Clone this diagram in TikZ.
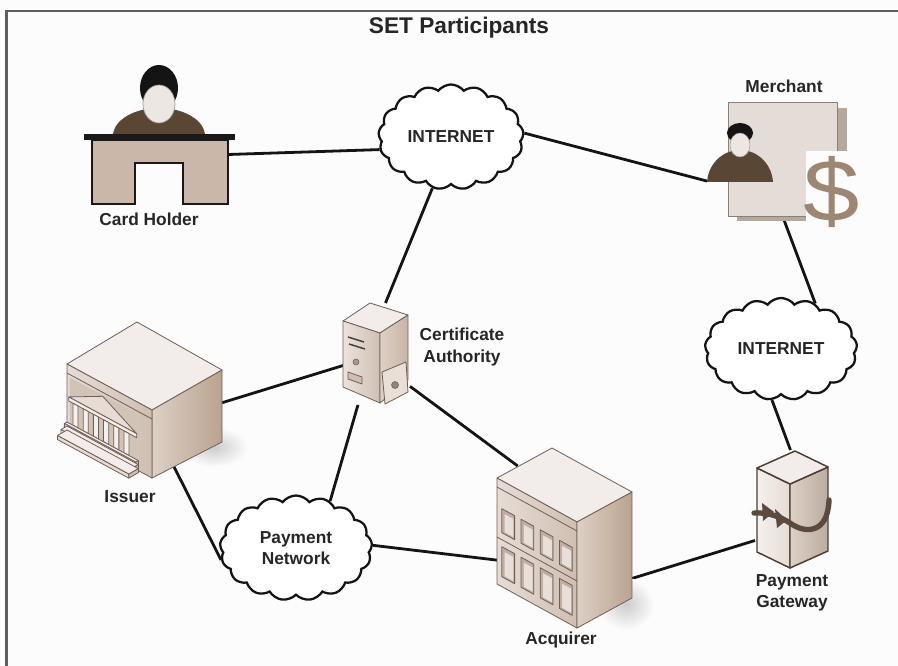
\documentclass[tikz,border=0pt]{standalone}
\usepackage{fontspec}
\setmainfont{Liberation Sans}
\usetikzlibrary{shapes.symbols}

\definecolor{bgc}{HTML}{FCFCFC}
\definecolor{framec}{HTML}{5E5E5E}
\definecolor{txt}{HTML}{262626}
\definecolor{topf}{HTML}{F2EDEA}
\definecolor{facel}{HTML}{E6DCD5}
\definecolor{faceld}{HTML}{CFBFB2}
\definecolor{facer}{HTML}{DDD0C5}
\definecolor{facerd}{HTML}{B9A390}
\definecolor{edgec}{HTML}{6F5F53}
\definecolor{recess}{HTML}{D2C3B7}
\definecolor{colc}{HTML}{F4F0ED}
\definecolor{winf}{HTML}{BFAEA1}
\definecolor{wini}{HTML}{E8DFD8}
\definecolor{skin}{HTML}{EDE7E3}
\definecolor{shirt}{HTML}{5A4634}
\definecolor{desk}{HTML}{CAB7A9}
\definecolor{paper}{HTML}{E4DCD7}
\definecolor{papershadow}{HTML}{B8A89B}
\definecolor{dollarc}{HTML}{9D8772}
\definecolor{bandc}{HTML}{5B4A3D}
\definecolor{pgedge}{HTML}{4C3D33}

\pgfdeclarelayer{back}
\pgfdeclarelayer{links}
\pgfsetlayers{back,links,main}

% points on the temple face of the bank (u along the face, v down, p out of the face)
\newcommand\isl[3]{({67+85*(#1)-0.87*(#3)},{364+46*(#1)+(#2)+0.5*(#3)})}
% points on the window face of the office block
\newcommand\acl[2]{({497+80*(#1)},{478+44*(#1)+(#2)})}

\begin{document}
\begin{tikzpicture}[x=0.75pt,y=-0.75pt,
  link/.style={draw=black!92, line width=2.1pt},
  anchorbox/.style={rectangle, draw=none, inner sep=0pt, outer sep=0pt},
  lbl/.style={font=\bfseries\fontsize{13}{16}\selectfont, text=txt, inner sep=0pt, align=center},
  titlelbl/.style={font=\bfseries\fontsize{17}{20}\selectfont, text=txt, inner sep=0pt},
  cloudn/.style={cloud, cloud puffs=17, cloud puff arc=105, cloud ignores aspect,
    draw=black!92, line width=1.7pt, fill=white, inner sep=0pt,
    font=\bfseries\fontsize{13}{16}\selectfont, text=txt, align=center},
  edge/.style={draw=edgec, line width=0.6pt, line join=round},
  pgline/.style={draw=pgedge, line width=1.1pt, line join=round}]

\useasboundingbox (0,0) rectangle (898,666);
\begin{pgfonlayer}{back}
  \fill[bgc] (0,0) rectangle (898,666);
  \draw[framec, line width=1.6pt] (6.5,666) -- (6.5,11) -- (898,11);
\end{pgfonlayer}

\node[titlelbl] (title) at (459,28) {SET Participants};

% ---------- anchor areas of the participants ----------
\node[anchorbox, minimum width=102pt, minimum height=105pt] (holder) at (160,135) {};
\node[anchorbox, minimum width=113.25pt, minimum height=87pt] (merchant) at (782.5,158) {};
\node[anchorbox, minimum width=50.25pt, minimum height=76.5pt] (ca) at (376.5,354) {};
\node[anchorbox, minimum width=125.25pt, minimum height=106.5pt] (issuer) at (138.5,391) {};
\node[anchorbox, minimum width=101.25pt, minimum height=121.5pt] (acquirer) at (564.5,547) {};
\node[anchorbox, minimum width=56.25pt, minimum height=88.5pt] (gateway) at (792.5,509) {};

% ---------- networks ----------
\node[cloudn, minimum width=108.75pt, minimum height=78.75pt] (cloud1) at (451,137) {INTERNET};
\node[cloudn, minimum width=114pt, minimum height=76.5pt] (cloud2) at (781,349) {INTERNET};
\node[cloudn, minimum width=114pt, minimum height=78.75pt] (pn) at (296,548) {Payment\\Network};

% ---------- connections ----------
\begin{pgfonlayer}{links}
  \draw[link] (holder.-16) -- (cloud1.190);
  \draw[link] (cloud1.3) -- (merchant.197);
  \draw[link] (cloud1.250) -- (ca.80);
  \draw[link] (merchant.south) -- (cloud2.53);
  \draw[link] (cloud2.260) -- (gateway.92);
  \draw[link] (ca.199) -- (issuer.-8);
  \draw[link] (ca.250) -- (pn.54);
  \draw[link] (ca.-44) -- (acquirer.120);
  \draw[link] (issuer.-65) -- (pn.189);
  \draw[link] (pn.2) -- (acquirer.191);
  \draw[link] (acquirer.-25) -- (gateway.220);
\end{pgfonlayer}

% ---------- card holder at a desk ----------
\begin{scope}
  \clip (100,90) rectangle (220,136);
  \fill[shirt] (159,136) ellipse[x radius=46, y radius=28];
\end{scope}
\fill[black!92] (159,88) ellipse[x radius=19, y radius=23];
\filldraw[fill=skin, draw=black!40, line width=0.5pt] (159,104) ellipse[x radius=16, y radius=19];
\fill[black!90] (84,134) rectangle (235,140);
\filldraw[fill=desk, draw=black!90, line width=2pt, line join=miter]
  (92,140) -- (228,140) -- (228,204) -- (183,204) -- (183,163) -- (135,163) -- (135,204) -- (92,204) -- cycle;
\node[lbl] (holderlbl) at (149,219) {Card Holder};

% ---------- merchant ----------
\fill[papershadow] (737,108) rectangle (847,221);
\filldraw[fill=paper, draw=edgec!80, line width=0.6pt] (728,102) rectangle (837,216);
\fill[bgc] (806,151) rectangle (862,234);
\node[inner sep=0pt, text=dollarc, font=\fontsize{66}{66}\selectfont] (dollar) at (832,192) {\scalebox{1.15}[1]{\$}};
\begin{scope}
  \clip (700,140) rectangle (780,182);
  \fill[shirt] (740,184) ellipse[x radius=33, y radius=34];
\end{scope}
\fill[black!92] (740,133) ellipse[x radius=13, y radius=10];
\filldraw[fill=skin, draw=black!40, line width=0.4pt] (740,145) ellipse[x radius=10, y radius=12];
\node[lbl] (merchlbl) at (784,86) {Merchant};

% ---------- certificate authority (server) ----------
\filldraw[fill=topf, edge] (343,321) -- (370,303) -- (408,315) -- (380,333) -- cycle;
\shadedraw[edge, left color=facel!80!white, right color=faceld] (343,321) -- (380,333) -- (380,403) -- (343,387) -- cycle;
\shadedraw[edge, left color=facer, right color=facerd!80!white] (380,333) -- (408,315) -- (408,380) -- (380,403) -- cycle;
\draw[black!75, line width=1.1pt] (348,337) -- (364,342) (349,344) -- (365,349);
\filldraw[fill=faceld!80!black, draw=edgec, line width=0.4pt] (356,362) circle[radius=3];
\filldraw[fill=faceld, edge] (348,372) -- (362,377) -- (362,384) -- (348,379) -- cycle;
\filldraw[fill=wini, edge] (382,372) -- (406,362) -- (408,392) -- (385,404) -- cycle;
\filldraw[fill=faceld!70!black, draw=edgec, line width=0.4pt] (395,385) circle[radius=3.5];
\node[lbl] (calbl) at (462,347) {Certificate\\Authority};

% ---------- issuer (bank) ----------
\shade[inner color=black!20, outer color=bgc] (214,447) ellipse[x radius=34, y radius=20];
\filldraw[fill=topf, edge] (137,322) -- (222,370) -- (152,410) -- (67,364) -- cycle;
\shadedraw[edge, left color=facer, right color=facerd] (152,410) -- (222,370) -- (222,442) -- (152,478) -- cycle;
\shadedraw[edge, left color=facel, right color=faceld] (67,364) -- (152,410) -- (152,478) -- (67,432) -- cycle;
\draw[edge] \isl{0}{9}{0} -- \isl{1}{9}{0};
\fill[recess] \isl{0.03}{12}{0} -- \isl{0.82}{12}{0} -- \isl{0.82}{58}{0} -- \isl{0.03}{58}{0} -- cycle;
\filldraw[fill=facel, edge] \isl{0.02}{32}{0} -- \isl{0.42}{13}{0} -- \isl{0.82}{32}{0} -- cycle;
\filldraw[fill=topf, edge] \isl{0.02}{32}{0} -- \isl{0.82}{32}{0} -- \isl{0.82}{36}{0} -- \isl{0.02}{36}{0} -- cycle;
\foreach \u in {0.10,0.22,0.34,0.46,0.58,0.70}
  \filldraw[fill=colc, edge] \isl{\u-0.03}{36}{0} -- \isl{\u+0.03}{36}{0} -- \isl{\u+0.03}{58}{0} -- \isl{\u-0.03}{58}{0} -- cycle;
\foreach \vt/\p in {58/3,62/7,66/11}{
  \filldraw[fill=topf, edge] \isl{0}{\vt}{0} -- \isl{0.84}{\vt}{0} -- \isl{0.84}{\vt}{\p} -- \isl{0}{\vt}{\p} -- cycle;
  \filldraw[fill=facel, edge] \isl{0}{\vt}{\p} -- \isl{0.84}{\vt}{\p} -- \isl{0.84}{\vt+4}{\p} -- \isl{0}{\vt+4}{\p} -- cycle;
  \filldraw[fill=faceld, edge] \isl{0.84}{\vt}{0} -- \isl{0.84}{\vt}{\p} -- \isl{0.84}{\vt+4}{\p} -- \isl{0.84}{\vt+4}{0} -- cycle;
}
\node[lbl] (issuerlbl) at (130,497) {Issuer};

% ---------- acquirer (office block) ----------
\shade[inner color=black!20, outer color=bgc] (626,604) ellipse[x radius=28, y radius=26];
\filldraw[fill=topf, edge] (497,478) -- (552,448) -- (632,492) -- (577,522) -- cycle;
\shadedraw[edge, left color=facel, right color=faceld] (497,478) -- (577,522) -- (577,628) -- (497,584) -- cycle;
\shadedraw[edge, left color=facer, right color=facerd] (577,522) -- (632,492) -- (632,598) -- (577,628) -- cycle;
\draw[edge] \acl{0}{9} -- \acl{1}{9};
\draw[edge] \acl{0}{59} -- \acl{1}{59};
\foreach \u in {0.06,0.30,0.54,0.78}{
  \filldraw[fill=winf, edge] \acl{\u}{28} -- \acl{\u+0.16}{28} -- \acl{\u+0.16}{52} -- \acl{\u}{52} -- cycle;
  \fill[wini] \acl{\u+0.035}{32} -- \acl{\u+0.145}{32} -- \acl{\u+0.145}{50} -- \acl{\u+0.035}{50} -- cycle;
  \filldraw[fill=winf, edge] \acl{\u}{66} -- \acl{\u+0.16}{66} -- \acl{\u+0.16}{96} -- \acl{\u}{96} -- cycle;
  \fill[wini] \acl{\u+0.035}{70} -- \acl{\u+0.145}{70} -- \acl{\u+0.145}{94} -- \acl{\u+0.035}{94} -- cycle;
}
\node[lbl] (acqlbl) at (561,640) {Acquirer};

% ---------- payment gateway ----------
\shadedraw[pgline, left color=colc, right color=facel] (757,468) -- (790,484) -- (790,568) -- (757,552) -- cycle;
\shadedraw[pgline, left color=facer, right color=faceld!90!black] (790,484) -- (828,467) -- (828,551) -- (790,568) -- cycle;
\filldraw[fill=topf, pgline] (757,468) -- (795,451) -- (828,467) -- (790,484) -- cycle;
\draw[bandc, line width=4pt, line cap=round]
  (754,513) .. controls (770,512) and (782,518) .. (790,523)
  .. controls (805,534) and (828,534) .. (829,500);
\fill[bandc] (762,503) -- (774,512) -- (763,521) -- cycle;
\fill[bandc] (775,509) -- (787,520) -- (777,528) -- cycle;
\node[lbl] (pglbl) at (792,593) {Payment\\Gateway};

\end{tikzpicture}
\end{document}
